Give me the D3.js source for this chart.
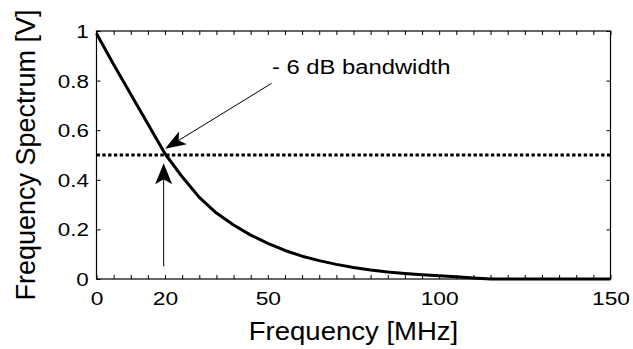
<!DOCTYPE html>
<html><head><meta charset="utf-8">
<script src="https://cdn.jsdelivr.net/npm/d3@7"></script>
<style>
body{margin:0;background:#fff}
svg{display:block}
text{font-family:Arial,"Liberation Sans",Helvetica,sans-serif;fill:#000}
</style>
</head><body>
<svg id="c" width="633" height="349"></svg>
<script>
// ---- data ----
const freq     = [0, 5, 10, 15, 20, 25, 30, 35, 40, 45, 50, 55, 60, 65, 70, 75, 80, 85, 90, 95, 100, 105, 110, 115, 150];
const spectrum = [0.99, 0.865, 0.745, 0.625, 0.505, 0.412, 0.329, 0.266, 0.218, 0.177, 0.144, 0.115, 0.092, 0.074, 0.059, 0.046, 0.036, 0.028, 0.022, 0.017, 0.013, 0.009, 0.004, 0, 0];
const halfLevel = [0.5];
const xTickValues = d3.range(0, 151, 5);
const xTickLabels = [0, 20, 50, 100, 150];
const yTickValues = [0, 0.2, 0.4, 0.6, 0.8, 1];
const xLabel = "Frequency [MHz]";
const yLabel = "Frequency Spectrum [V]";
const noteText = "- 6 dB bandwidth";
const noteAnchor = [51.2, 0.826];
const arrowDiag = [[51.1, 0.789], [20.0, 0.525]];
const arrowVert = [[19.6, 0.051], [19.6, 0.467]];

// ---- layout ----
const W = 633, H = 349;
const plot = {left: 96.5, right: 610.5, top: 31, bottom: 279};
const svg = d3.select("#c");
const x = d3.scaleLinear().domain([0, 150]).range([plot.left, plot.right]);
const y = d3.scaleLinear().domain([0, 1]).range([plot.bottom, plot.top]);

// axes (ticks inward)
const gx = svg.append("g").attr("transform", `translate(0,${plot.bottom})`)
  .call(d3.axisBottom(x).tickValues(xTickValues).tickSizeInner(-4).tickSizeOuter(0)
    .tickFormat(d => xTickLabels.includes(d) ? String(d) : ""));
gx.selectAll("text").attr("y", 26).attr("dy", 0)
  .attr("transform", "scale(1.2,1)").style("font-size", "19px");

const gt = svg.append("g").attr("transform", `translate(0,${plot.top})`)
  .call(d3.axisTop(x).tickValues(xTickValues).tickSizeInner(-4).tickSizeOuter(0).tickFormat(""));

const gy = svg.append("g").attr("transform", `translate(${plot.left},0)`)
  .call(d3.axisLeft(y).tickValues(yTickValues).tickSizeInner(-4).tickSizeOuter(0)
    .tickFormat(d => d3.format("~g")(d)));
gy.selectAll("text").attr("x", -6.5).attr("dy", "0.34em")
  .attr("transform", "scale(1.18,1)").style("font-size", "19px");

const gr = svg.append("g").attr("transform", `translate(${plot.right},0)`)
  .call(d3.axisRight(y).tickValues(yTickValues).tickSizeInner(-4).tickSizeOuter(0).tickFormat(""));

svg.selectAll(".domain").remove();
svg.selectAll(".tick line").attr("stroke", "#000").attr("stroke-width", 1);
svg.selectAll("g").attr("font-family", null).attr("font-size", null);

// frame
svg.append("rect")
  .attr("x", plot.left).attr("y", plot.top)
  .attr("width", plot.right - plot.left).attr("height", plot.bottom - plot.top)
  .attr("fill", "none").attr("stroke", "#000").attr("stroke-width", 1.2);

// dotted -6 dB level
svg.selectAll(".half").data(halfLevel).join("line").attr("class", "half")
  .attr("x1", x(0)).attr("x2", x(150))
  .attr("y1", d => y(d)).attr("y2", d => y(d))
  .attr("stroke", "#000").attr("stroke-width", 3).attr("stroke-dasharray", "3.4,2.4");

// spectrum curve
const line = d3.line().x((d, i) => x(freq[i])).y(d => y(d));
svg.append("path").datum(spectrum)
  .attr("d", line).attr("fill", "none").attr("stroke", "#000")
  .attr("stroke-width", 3).attr("stroke-linejoin", "round");

// arrows
function arrow(pts, len, hw, notch) {
  const [x0, y0] = [x(pts[0][0]), y(pts[0][1])];
  const [x1, y1] = [x(pts[1][0]), y(pts[1][1])];
  const dx = x1 - x0, dy = y1 - y0, L = Math.hypot(dx, dy);
  const ux = dx / L, uy = dy / L, px = -uy, py = ux;
  svg.append("line").attr("x1", x0).attr("y1", y0)
    .attr("x2", x1 - ux * (len - notch)).attr("y2", y1 - uy * (len - notch))
    .attr("stroke", "#000").attr("stroke-width", 1);
  const bx = x1 - ux * len, by = y1 - uy * len;
  const nx = x1 - ux * (len - notch), ny = y1 - uy * (len - notch);
  svg.append("path")
    .attr("d", `M${x1},${y1}L${bx + px * hw},${by + py * hw}L${nx},${ny}L${bx - px * hw},${by - py * hw}Z`)
    .attr("fill", "#000");
}
arrow(arrowDiag, 21, 7.5, 5);
arrow(arrowVert, 21, 8.5, 5);

// annotation text
svg.append("text")
  .attr("transform", `translate(${x(noteAnchor[0])},${y(noteAnchor[1])}) scale(1.19,1)`)
  .style("font-size", "20px").text(noteText);

// axis titles
svg.append("text")
  .attr("transform", `translate(${(plot.left + plot.right) / 2},340) scale(1.08,1)`)
  .attr("text-anchor", "middle").style("font-size", "25.5px").text(xLabel);
svg.append("text")
  .attr("transform", `translate(35,${(plot.top + plot.bottom) / 2}) rotate(-90)`)
  .attr("text-anchor", "middle").style("font-size", "27px").text(yLabel);
</script>
</body></html>
